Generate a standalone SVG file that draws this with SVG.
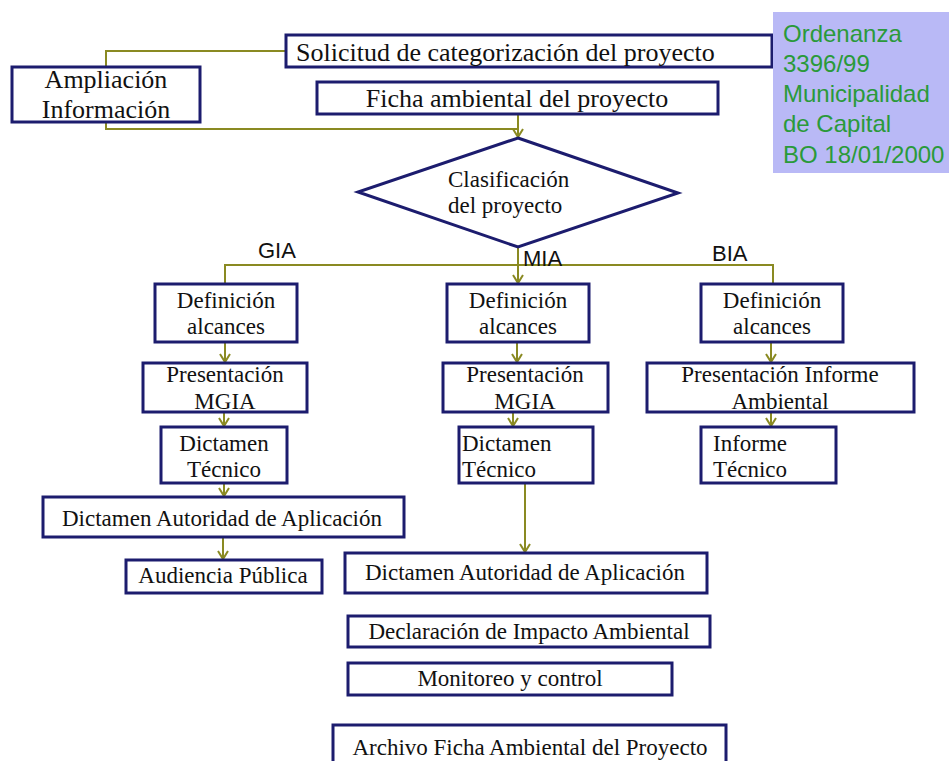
<svg xmlns="http://www.w3.org/2000/svg" width="949" height="761" viewBox="0 0 949 761">
<style>
.b{fill:#fff;stroke:#1c1c6e;stroke-width:3}
.t{font-family:"Liberation Serif","Times New Roman",serif;font-size:23px;fill:#111}
.tl{font-family:"Liberation Serif","Times New Roman",serif;font-size:26px;fill:#111}
.c{text-anchor:middle}
.s{font-family:"Liberation Sans",Arial,sans-serif;font-size:22px;fill:#111}
.g{font-family:"Liberation Sans",Arial,sans-serif;font-size:24px;fill:#2a9a3a}
.ln{fill:none;stroke:#8a8a22;stroke-width:2}
.ar{marker-end:url(#arr)}
</style>
<defs>
<marker id="arr" markerUnits="userSpaceOnUse" markerWidth="12" markerHeight="12" viewBox="0 0 12 12" refX="10" refY="6" orient="auto">
<path d="M2,1 L10,6 L2,11" fill="none" stroke="#8a8a22" stroke-width="2"/>
</marker>
</defs>
<rect width="949" height="761" fill="#fff"/>

<g id="connectors">
<path class="ln" d="M286,51 H106 V67"/>
<path class="ln" d="M106,122 V129 H518"/>
<path class="ln ar" d="M518,114 V137"/>
<path class="ln ar" d="M518,247 V283"/>
<path class="ln" d="M225,284 V265 H773 V284"/>
<path class="ln ar" d="M225,342 V362"/>
<path class="ln ar" d="M224,402 V426"/>
<path class="ln ar" d="M224,483 V496"/>
<path class="ln ar" d="M223,537 V559"/>
<path class="ln ar" d="M517,342 V362"/>
<path class="ln ar" d="M513,402 V426"/>
<path class="ln ar" d="M525,483 V552"/>
<path class="ln ar" d="M771,342 V362"/>
<path class="ln ar" d="M771,402 V426"/>
</g>

<g id="labels">
<text class="s" x="258" y="258">GIA</text>
<text class="s" x="523" y="266">MIA</text>
<text class="s" x="712" y="261">BIA</text>
</g>

<g id="solicitud">
<rect class="b" x="286" y="35" width="486" height="32"/>
<text class="tl" x="296" y="61">Solicitud de categorización del proyecto</text>
</g>

<g id="ordenanza">
<rect x="773" y="12" width="176" height="161" fill="#b9b9f6"/>
<text class="g" x="783" y="42">Ordenanza</text>
<text class="g" x="783" y="72">3396/99</text>
<text class="g" x="783" y="102">Municipalidad</text>
<text class="g" x="783" y="132">de Capital</text>
<text class="g" x="783" y="163">BO 18/01/2000</text>
</g>

<g id="ampliacion">
<rect class="b" x="12" y="67" width="188" height="55"/>
<text class="tl c" x="106" y="88">Ampliación</text>
<text class="tl c" x="106" y="118">Información</text>
</g>

<g id="ficha">
<rect class="b" x="317" y="82" width="401" height="32"/>
<text class="tl c" x="517" y="107">Ficha ambiental del proyecto</text>
</g>

<g id="clasificacion">
<polygon class="b" points="518,138 678,193 518,247 358,192"/>
<text class="t" x="448" y="187">Clasificación</text>
<text class="t" x="448" y="213">del proyecto</text>
</g>

<g id="gia-def">
<rect class="b" x="155" y="284" width="142" height="58"/>
<text class="t c" x="226" y="308">Definición</text>
<text class="t c" x="226" y="334">alcances</text>
</g>
<g id="gia-pres">
<rect class="b" x="143" y="363" width="164" height="49"/>
<text class="t c" x="225" y="382">Presentación</text>
<text class="t c" x="225" y="409">MGIA</text>
</g>
<g id="gia-dict">
<rect class="b" x="161" y="427" width="126" height="56"/>
<text class="t c" x="224" y="451">Dictamen</text>
<text class="t c" x="224" y="477">Técnico</text>
</g>
<g id="gia-daa">
<rect class="b" x="43" y="497" width="361" height="40"/>
<text class="t c" x="222" y="526">Dictamen Autoridad de Aplicación</text>
</g>
<g id="audiencia">
<rect class="b" x="126" y="560" width="196" height="33"/>
<text class="t c" x="223" y="583">Audiencia Pública</text>
</g>

<g id="mia-def">
<rect class="b" x="447" y="284" width="142" height="58"/>
<text class="t c" x="518" y="308">Definición</text>
<text class="t c" x="518" y="334">alcances</text>
</g>
<g id="mia-pres">
<rect class="b" x="443" y="363" width="165" height="49"/>
<text class="t c" x="525" y="382">Presentación</text>
<text class="t c" x="525" y="409">MGIA</text>
</g>
<g id="mia-dict">
<rect class="b" x="459" y="427" width="134" height="56"/>
<text class="t" x="462" y="451">Dictamen</text>
<text class="t" x="462" y="477">Técnico</text>
</g>
<g id="mia-daa">
<rect class="b" x="345" y="553" width="362" height="40"/>
<text class="t c" x="525" y="580">Dictamen Autoridad de Aplicación</text>
</g>
<g id="declaracion">
<rect class="b" x="348" y="616" width="362" height="31"/>
<text class="t c" x="529" y="639">Declaración de Impacto Ambiental</text>
</g>
<g id="monitoreo">
<rect class="b" x="348" y="663" width="324" height="32"/>
<text class="t c" x="510" y="686">Monitoreo y control</text>
</g>
<g id="archivo">
<rect class="b" x="333" y="725" width="393" height="45"/>
<text class="t c" x="530" y="755">Archivo Ficha Ambiental del Proyecto</text>
</g>

<g id="bia-def">
<rect class="b" x="701" y="284" width="142" height="58"/>
<text class="t c" x="772" y="308">Definición</text>
<text class="t c" x="772" y="334">alcances</text>
</g>
<g id="bia-pres">
<rect class="b" x="647" y="363" width="267" height="49"/>
<text class="t c" x="780" y="382">Presentación Informe</text>
<text class="t c" x="780" y="409">Ambiental</text>
</g>
<g id="bia-inf">
<rect class="b" x="701" y="427" width="135" height="56"/>
<text class="t" x="713" y="451">Informe</text>
<text class="t" x="713" y="477">Técnico</text>
</g>
</svg>
